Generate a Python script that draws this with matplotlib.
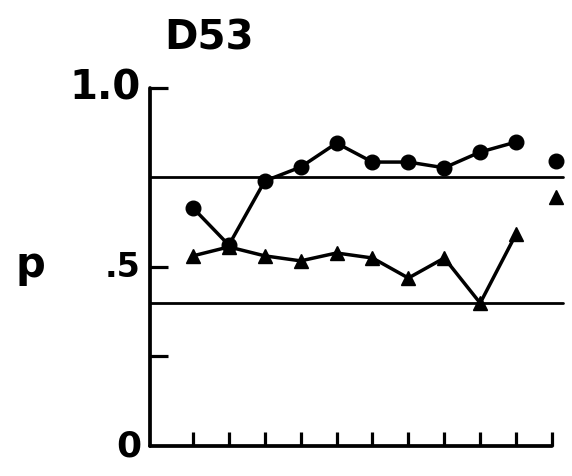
import numpy as np
import matplotlib
matplotlib.use("Agg")
import matplotlib.pyplot as plt

# session index along the x axis
sessions = [1, 2, 3, 4, 5, 6, 7, 8, 9, 10]
# proportion p, circle series and triangle series
p_circle = [0.665, 0.561, 0.740, 0.779, 0.846, 0.793, 0.793, 0.777, 0.821, 0.849]
p_triangle = [0.531, 0.556, 0.531, 0.517, 0.539, 0.525, 0.469, 0.525, 0.399, 0.592]
# stand-alone points at the right edge
extra_x = 11.1
extra_circle = 0.796
extra_triangle = 0.696
# criterion lines
ref_levels = [0.75, 0.40]

x_ticks = list(range(1, 12))
y_ticks = [0.25, 0.5, 1.0]
y_labels = {1.0: ("1.0", 29), 0.5: (".5", 24), 0.0: ("0", 26)}

fig = plt.figure(figsize=(5.72, 4.77), dpi=100)
ax = fig.add_axes([0.262, 0.063, 0.725, 0.7505])

ax.set_xlim(-0.2, 11.35)
ax.set_ylim(0, 1.0)

for spine in ("top", "right"):
    ax.spines[spine].set_visible(False)
ax.spines["left"].set_linewidth(2.7)
ax.spines["bottom"].set_linewidth(2.7)
ax.spines["bottom"].set_bounds(-0.2, 11)
ax.spines["left"].set_capstyle("round")
ax.spines["bottom"].set_capstyle("round")

ax.set_xticks(x_ticks)
ax.set_yticks(y_ticks)
ax.tick_params(axis="x", direction="in", length=10, width=2.3, labelbottom=False)
ax.tick_params(axis="y", direction="in", length=13, width=2.3, labelleft=False)

for level in ref_levels:
    ax.plot([-0.2, 11.3], [level, level], color="black", lw=2.0, solid_capstyle="round")

ax.plot(sessions, p_circle, color="black", lw=2.5, marker="o", markersize=10.5)
ax.plot(sessions, p_triangle, color="black", lw=2.5, marker="^", markersize=9.5)
ax.plot(extra_x, extra_circle, color="black", marker="o", markersize=10.5)
ax.plot(extra_x, extra_triangle, color="black", marker="^", markersize=9.5)

for val, (txt, size) in y_labels.items():
    ax.text(-0.45, val, txt, ha="right", va="center", fontsize=size,
            fontweight="bold", transform=ax.transData)

fig.text(0.027, 0.445, "p", ha="left", va="center", fontsize=30, fontweight="bold")
fig.text(0.365, 0.92, "D53", ha="center", va="center", fontsize=29, fontweight="bold")

fig.savefig("out.png", dpi=100)
